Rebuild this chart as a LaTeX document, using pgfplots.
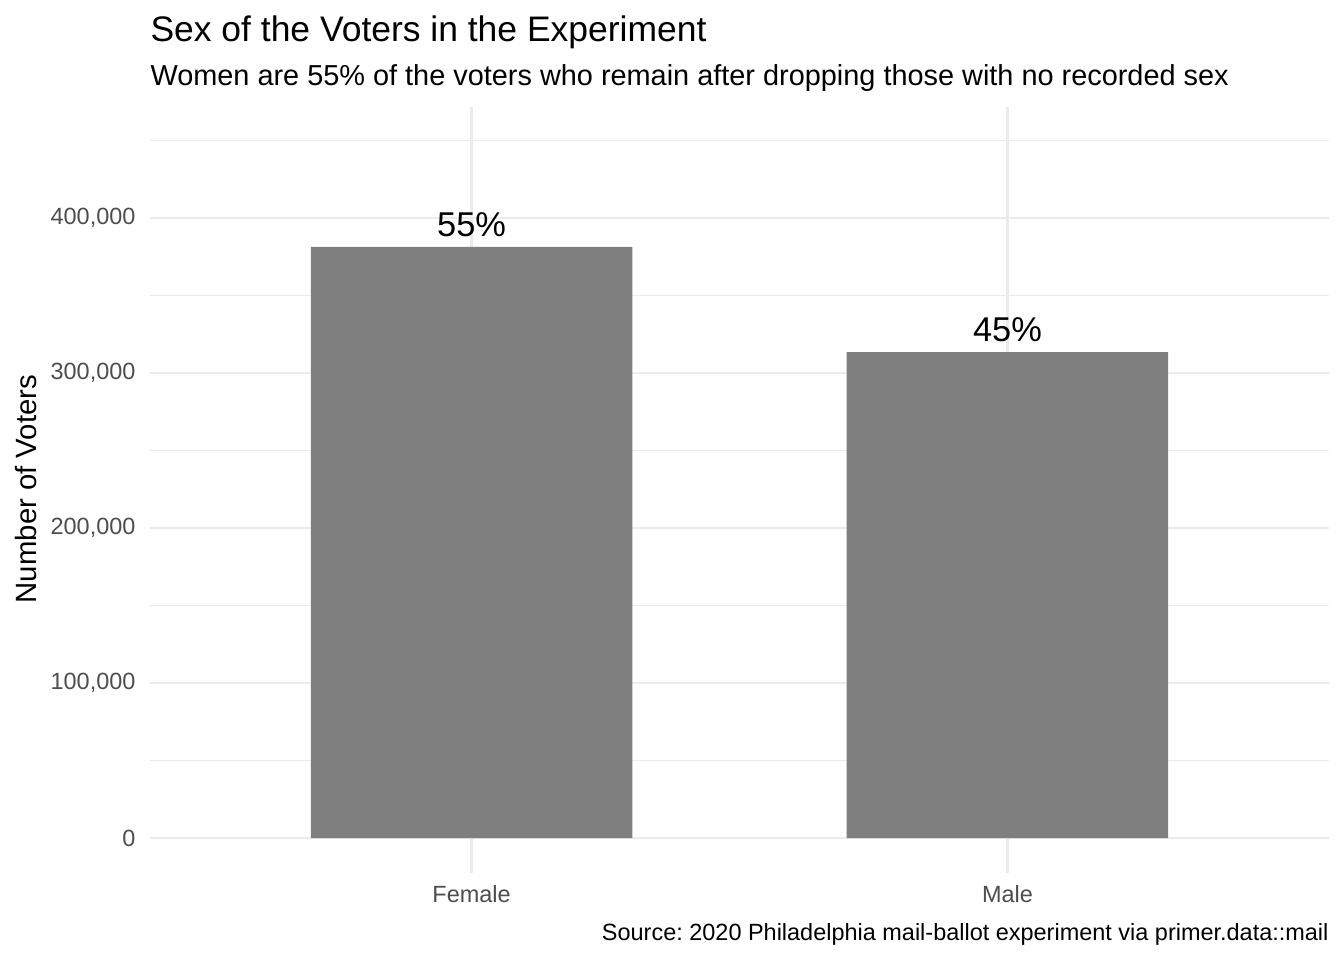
\documentclass[border=0pt]{standalone}
\usepackage{fontspec}
\setmainfont{Liberation Sans}
\usepackage{pgfplots}
\pgfplotsset{compat=1.18}
\definecolor{gridc}{HTML}{EBEBEB}
\definecolor{barc}{HTML}{7F7F7F}
\definecolor{tickc}{HTML}{4D4D4D}
\frenchspacing
\begin{document}
\begin{tikzpicture}
\useasboundingbox (0,0) rectangle (504pt,360pt);
\begin{axis}[
  at={(56.25pt,32.625pt)}, anchor=south west,
  scale only axis, width=442.125pt, height=287.25pt,
  xmin=-0.6, xmax=1.6, ymin=-22580, ymax=471600,
  xtick={0,1}, xticklabels={Female,Male},
  ytick={0,100000,200000,300000,400000},
  minor ytick={50000,150000,250000,350000,450000},
  xmajorgrids, ymajorgrids, yminorgrids,
  major grid style={gridc, line width=1.07pt},
  minor grid style={gridc, line width=0.53pt},
  axis line style={draw=none},
  major tick length=0pt, minor tick length=0pt,
  tick style={draw=none},
  scaled y ticks=false,
  yticklabel style={font=\fontsize{8.8}{10}\selectfont, text=tickc, anchor=east, inner sep=0pt, xshift=-5.25pt},
  xticklabel style={font=\fontsize{8.8}{10}\selectfont, text=tickc, anchor=north, inner sep=0pt, yshift=-4.5pt},
  /pgf/number format/fixed,
  /pgf/number format/1000 sep={,},
  /pgf/number format/assume math mode=true,
]
\addplot[ybar, bar width=0.6, bar shift=0pt, fill=barc, draw=none,
  point meta=explicit symbolic, nodes near coords,
  every node near coord/.append style={font=\fontsize{12.9}{15}\selectfont, text=black, anchor=base, inner sep=0pt, yshift=4.1pt}]
  coordinates {(0,381300) [55\%] (1,313500) [45\%]};
\end{axis}
\node[anchor=base west, inner sep=0pt, font=\fontsize{13.3}{15}\selectfont] at (56.25pt,344.6pt) {Sex of the Voters in the Experiment};
\node[anchor=base west, inner sep=0pt, font=\fontsize{10.83}{13}\selectfont] at (56.25pt,328.1pt) {Women are 55\% of the voters who remain after dropping those with no recorded sex};
\node[anchor=base east, inner sep=0pt, font=\fontsize{8.8}{10}\selectfont] at (498.4pt,7.5pt) {Source: 2020 Philadelphia mail-ballot experiment via primer.data::mail};
\node[anchor=base, rotate=90, inner sep=0pt, font=\fontsize{11}{13}\selectfont] at (13.5pt,176.6pt) {Number of Voters};
\end{tikzpicture}
\end{document}
